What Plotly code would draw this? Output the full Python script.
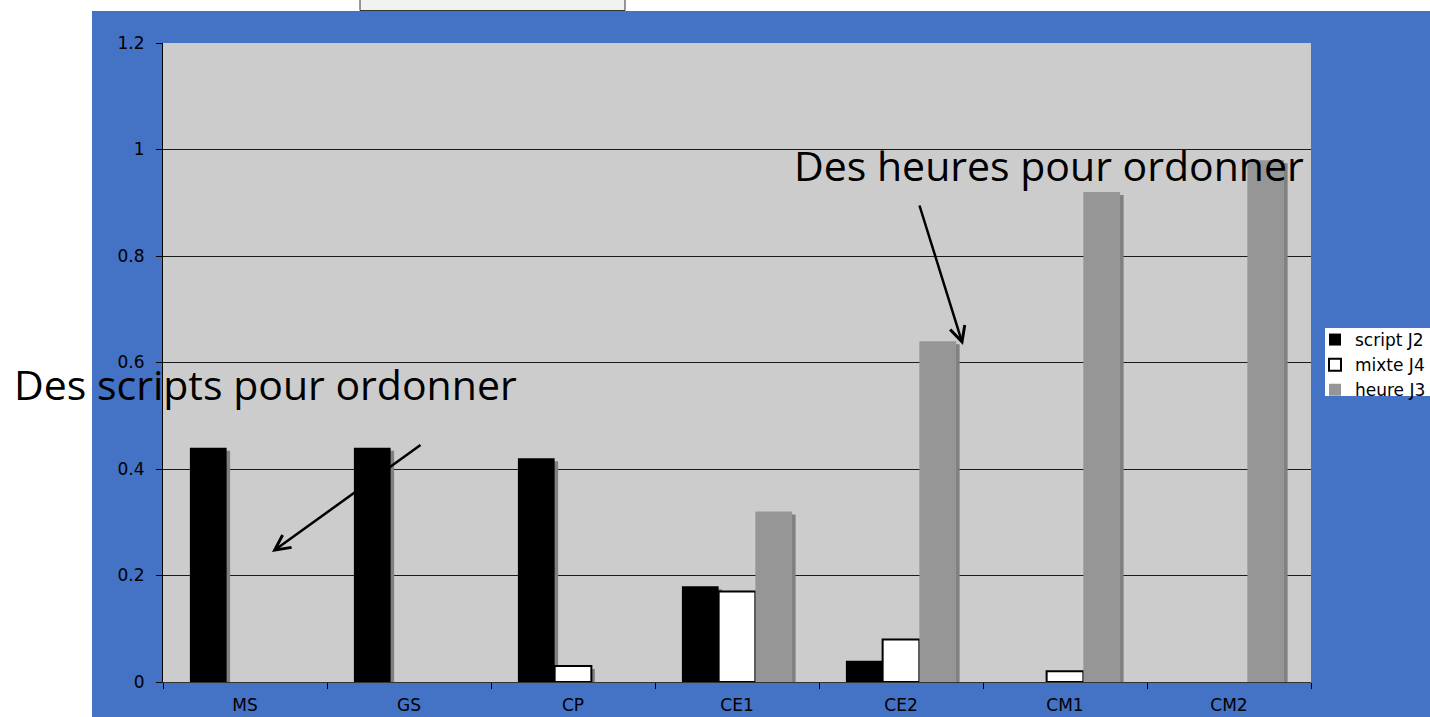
import plotly.graph_objects as go

categories = ["MS", "GS", "CP", "CE1", "CE2", "CM1", "CM2"]
script_j2 = [0.44, 0.44, 0.42, 0.18, 0.04, 0.0, 0.0]
mixte_j4 = [0.0, 0.0, 0.03, 0.17, 0.08, 0.02, 0.0]
heure_j3 = [0.0, 0.0, 0.0, 0.32, 0.64, 0.92, 0.98]
y_ticks = [0, 0.2, 0.4, 0.6, 0.8, 1, 1.2]
y_ticktext = ["0", "0.2", "0.4", "0.6", "0.8", "1", "1.2"]

W, H = 1430, 717
ML, MR, MT, MB = 163, 119, 43, 35
PW, PH = W - ML - MR, H - MT - MB


def px(x):
    return (x - ML) / PW


def py(y):
    return (H - MB - y) / PH


BAR_W = 0.224
SH_DX = 3.5 / (PW / 7)
SH_DY = 3 / (PH / 1.2)

series = [
    ("script J2", script_j2, "#000000", None, -0.336),
    ("mixte J4", mixte_j4, "#FFFFFF", "#000000", -0.112),
    ("heure J3", heure_j3, "#969696", None, 0.112),
]

fig = go.Figure()
for name, vals, color, lc, off in series:
    shadow = [(v - SH_DY) if v > SH_DY else None for v in vals]
    fig.add_trace(go.Bar(
        x=categories, y=shadow, width=BAR_W, offset=off + SH_DX,
        marker=dict(color="#808080", line=dict(width=0)),
        showlegend=False, hoverinfo="skip"))
    fig.add_trace(go.Bar(
        x=categories, y=[v if v > 0 else None for v in vals], width=BAR_W, offset=off, name=name,
        marker=dict(color=color, line=dict(width=2 if lc else 0, color=lc or color))))

shapes = [
    dict(type="rect", xref="paper", yref="paper", x0=px(92), x1=px(1432), y0=py(719), y1=py(11),
         fillcolor="#4472C4", line=dict(width=0), layer="below"),
    dict(type="rect", xref="paper", yref="paper", x0=0, x1=1, y0=0, y1=1,
         fillcolor="#CCCCCC", line=dict(width=0), layer="below"),
    dict(type="rect", xref="paper", yref="paper", x0=px(360), x1=px(625), y0=py(10.5), y1=py(-2),
         fillcolor="#F1F3F1", line=dict(width=1, color="#333333"), layer="below"),
    dict(type="rect", xref="paper", yref="paper", x0=px(1325), x1=px(1432), y0=py(396), y1=py(328),
         fillcolor="#FFFFFF", line=dict(width=0), layer="below"),
]

annotations = [
    dict(text="Des scripts pour ordonner", xref="paper", yref="paper", x=px(265.5), y=py(384),
         showarrow=False, font=dict(family="Open Sans", size=41, color="#000000"),
         xanchor="center", yanchor="middle"),
    dict(text="Des heures pour ordonner", xref="paper", yref="paper", x=px(1048.5), y=py(165),
         showarrow=False, font=dict(family="Open Sans", size=41, color="#000000"),
         xanchor="center", yanchor="middle"),
    dict(text="", xref="paper", yref="paper", x=px(272), y=py(552), ax=150, ay=-108,
         showarrow=True, arrowhead=5, arrowsize=1.2, arrowwidth=2.5, arrowcolor="#000000"),
    dict(text="", xref="paper", yref="paper", x=px(963), y=py(345), ax=-44, ay=-141,
         showarrow=True, arrowhead=5, arrowsize=1.2, arrowwidth=2.5, arrowcolor="#000000"),
]

fig.update_layout(
    width=W, height=H,
    margin=dict(l=ML, r=MR, t=MT, b=MB, autoexpand=False),
    paper_bgcolor="#FFFFFF", plot_bgcolor="rgba(0,0,0,0)",
    barmode="overlay",
    shapes=shapes, annotations=annotations,
    showlegend=True,
    legend=dict(x=px(1315), y=py(322), xanchor="left", yanchor="top",
                bgcolor="rgba(0,0,0,0)", borderwidth=0, traceorder="normal",
                font=dict(family="DejaVu Sans", size=17, color="#000000"),
                itemwidth=30),
    font=dict(family="DejaVu Sans", size=17, color="#000000"),
)

fig.update_xaxes(type="category", range=[-0.5, 6.5], showgrid=False, zeroline=False,
                 showline=True, linecolor="#333333", linewidth=1,
                 ticks="outside", tickson="boundaries", ticklen=6, tickcolor="#000000",
                 ticklabelstandoff=8, tickfont=dict(family="DejaVu Sans", size=17, color="#000000"))
fig.update_yaxes(range=[0, 1.2], tickvals=y_ticks, ticktext=y_ticktext,
                 showgrid=True, gridcolor="#1a1a1a", gridwidth=1, zeroline=False,
                 showline=True, linecolor="#000000", linewidth=1,
                 ticks="outside", ticklen=6, tickcolor="#000000",
                 ticklabelstandoff=8, tickfont=dict(family="DejaVu Sans", size=17, color="#000000"))

fig.write_html("out.html", config={"displayModeBar": False},
               post_script="document.body.style.margin='0';")
